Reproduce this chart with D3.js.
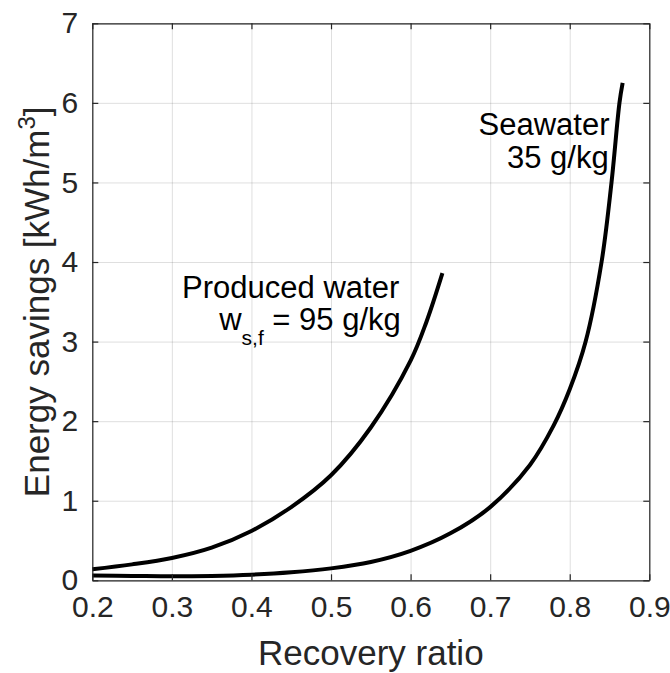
<!DOCTYPE html>
<html lang="en">
<head>
  <meta charset="UTF-8">
  <title>Energy savings vs recovery ratio</title>
  <script src="https://cdn.jsdelivr.net/npm/d3@7"></script>
  <style>
    body { margin: 0; background: #fff; }
    svg { display: block; font-family: "Liberation Sans", Arial, Helvetica, sans-serif; }
    .tick text { fill: #262626; }
    .label { fill: #262626; font-size: 35px; }
    .note { fill: #000; font-size: 31px; }
  </style>
</head>
<body>
  <div id="chart"></div>
  <script>
    // Axis ranges and ticks
    const xDomain = [0.2, 0.9];
    const yDomain = [0, 7];
    const xTicks = [0.2, 0.3, 0.4, 0.5, 0.6, 0.7, 0.8, 0.9];
    const yTicks = [0, 1, 2, 3, 4, 5, 6, 7];

    // Produced water, w_s,f = 95 g/kg
    const producedX = [0.20, 0.25, 0.30, 0.35, 0.40, 0.45, 0.50, 0.55, 0.60, 0.62, 0.64];
    const producedY = [0.14, 0.20, 0.28, 0.41, 0.62, 0.92, 1.32, 1.92, 2.76, 3.25, 3.86];

    // Seawater, 35 g/kg
    const seawaterX = [0.20, 0.25, 0.30, 0.35, 0.40, 0.45, 0.50, 0.55, 0.60, 0.65, 0.70, 0.75, 0.78, 0.80, 0.82, 0.84, 0.8525, 0.8625, 0.8665];
    const seawaterY = [0.06, 0.055, 0.05, 0.055, 0.07, 0.10, 0.15, 0.23, 0.37, 0.59, 0.92, 1.45, 1.95, 2.40, 3.0, 4.0, 5.0, 6.0, 6.25];

    const W = 670, H = 673;
    const margin = { top: 23.3, right: 20.7, bottom: 92.7, left: 92.3 };
    const width = W - margin.left - margin.right;
    const height = H - margin.top - margin.bottom;

    const svg = d3.select('#chart')
      .append('svg')
        .attr('width', W)
        .attr('height', H);

    const g = svg.append('g')
      .attr('transform', `translate(${margin.left},${margin.top})`);

    const x = d3.scaleLinear().domain(xDomain).range([0, width]);
    const y = d3.scaleLinear().domain(yDomain).range([height, 0]);

    // Grid lines
    g.append('g')
      .attr('transform', `translate(0,${height})`)
      .call(d3.axisBottom(x).tickValues(xTicks).tickSize(-height).tickFormat(''))
      .call(s => s.select('.domain').remove())
      .call(s => s.selectAll('line').attr('stroke', '#262626').attr('stroke-opacity', 0.15));
    g.append('g')
      .call(d3.axisLeft(y).tickValues(yTicks).tickSize(-width).tickFormat(''))
      .call(s => s.select('.domain').remove())
      .call(s => s.selectAll('line').attr('stroke', '#262626').attr('stroke-opacity', 0.15));

    // Curves
    const line = d3.line()
      .x(d => x(d[0]))
      .y(d => y(d[1]))
      .curve(d3.curveCatmullRom.alpha(0.5));

    const series = [
      d3.zip(producedX, producedY),
      d3.zip(seawaterX, seawaterY)
    ];
    g.selectAll('.curve')
      .data(series)
      .enter()
      .append('path')
        .attr('class', 'curve')
        .attr('d', line)
        .attr('fill', 'none')
        .attr('stroke', '#000')
        .attr('stroke-width', 4)
        .attr('stroke-linejoin', 'round');

    // Box axes, ticks pointing inward
    function styleAxis(s) {
      s.select('.domain').attr('stroke', '#262626').attr('stroke-width', 1.2);
      s.selectAll('.tick line').attr('stroke', '#262626').attr('stroke-width', 1.2);
    }
    g.append('g')
      .attr('transform', `translate(0,${height})`)
      .call(d3.axisBottom(x).tickValues(xTicks).tickSizeInner(-6).tickSizeOuter(0)
        .tickPadding(15).tickFormat(d3.format('.1f')))
      .call(styleAxis)
      .call(s => s.selectAll('.tick text').attr('font-size', 30));
    g.append('g')
      .call(d3.axisLeft(y).tickValues(yTicks).tickSizeInner(-6).tickSizeOuter(0)
        .tickPadding(14).tickFormat(d3.format('d')))
      .call(styleAxis)
      .call(s => s.selectAll('.tick text').attr('font-size', 30));
    g.append('g')
      .call(d3.axisTop(x).tickValues(xTicks).tickSizeInner(-6).tickSizeOuter(0).tickFormat(''))
      .call(styleAxis);
    g.append('g')
      .attr('transform', `translate(${width},0)`)
      .call(d3.axisRight(y).tickValues(yTicks).tickSizeInner(-6).tickSizeOuter(0).tickFormat(''))
      .call(styleAxis);

    // Axis labels
    svg.append('text')
      .attr('class', 'label')
      .attr('x', margin.left + width / 2)
      .attr('y', 665)
      .attr('text-anchor', 'middle')
      .text('Recovery ratio');

    const yLabel = svg.append('text')
      .attr('class', 'label')
      .attr('transform', `translate(49,${margin.top + height / 2}) rotate(-90)`)
      .attr('text-anchor', 'middle');
    yLabel.append('tspan').text('Energy savings [kWh/m');
    yLabel.append('tspan').attr('font-size', 24).attr('dy', -14).text('3');
    yLabel.append('tspan').attr('dy', 14).text(']');

    // Curve annotations
    g.append('text')
      .attr('class', 'note')
      .attr('x', x(0.5857))
      .attr('y', y(3.55))
      .attr('text-anchor', 'end')
      .text('Produced water');
    const ws = g.append('text')
      .attr('class', 'note')
      .attr('x', x(0.5877))
      .attr('y', y(3.14))
      .attr('text-anchor', 'end');
    ws.append('tspan').text('w');
    ws.append('tspan').attr('font-size', 21).attr('dy', 15).text('s,f');
    ws.append('tspan').attr('dy', -15).text(' = 95 g/kg');

    g.append('text')
      .attr('class', 'note')
      .attr('x', x(0.850))
      .attr('y', y(5.60))
      .attr('text-anchor', 'end')
      .text('Seawater');
    g.append('text')
      .attr('class', 'note')
      .attr('x', x(0.849))
      .attr('y', y(5.18))
      .attr('text-anchor', 'end')
      .text('35 g/kg');
  </script>
</body>
</html>
